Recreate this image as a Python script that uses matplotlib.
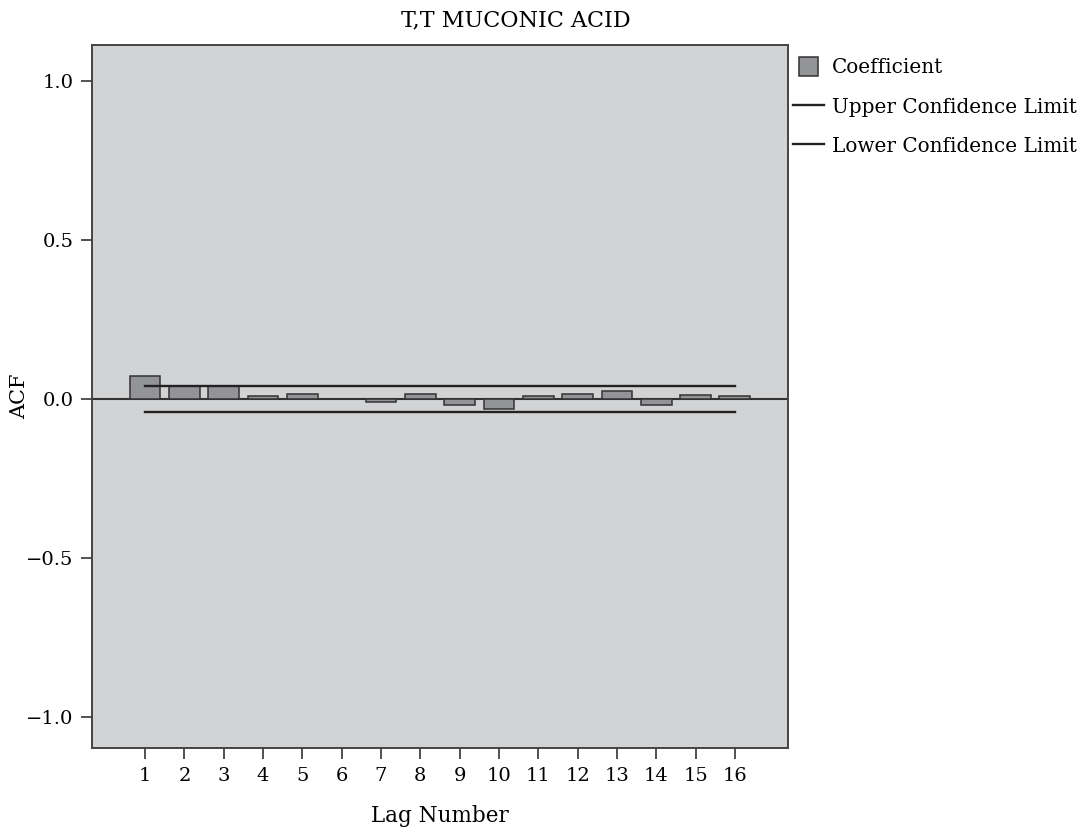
import numpy as np
import matplotlib
matplotlib.use("Agg")
import matplotlib.pyplot as plt
from matplotlib.patches import Patch, Rectangle
from matplotlib.lines import Line2D
from matplotlib.legend_handler import HandlerPatch

plt.rcParams["font.family"] = ["DejaVu Serif"]
plt.rcParams["axes.unicode_minus"] = True

TITLE = "T,T MUCONIC ACID"
LAGS = list(range(1, 17))
ACF = [0.071, 0.040, 0.040, 0.008, 0.014, 0.0, -0.010, 0.016,
       -0.019, -0.031, 0.008, 0.016, 0.024, -0.019, 0.012, 0.008]
UPPER = [0.042] * 16
LOWER = [-0.042] * 16

BG = "#d2d3d5"
BAR = "#939497"
EDGE = "#333333"


def square_patch(legend, orig_handle, xdescent, ydescent, width, height, fontsize):
    # square swatch centred in the handle box
    return Rectangle((-xdescent + (width - height) / 2, -ydescent), height, height)


fig = plt.figure(figsize=(10.89, 8.31), dpi=100)
ax = fig.add_axes([0.0845, 0.1, 0.639, 0.846])
ax.set_facecolor(BG)

ax.bar(LAGS, ACF, width=0.78, color=BAR, edgecolor=EDGE, linewidth=1.1, zorder=2)
ax.plot(LAGS, UPPER, color="#222222", linewidth=1.7, zorder=3)
ax.plot(LAGS, LOWER, color="#222222", linewidth=1.7, zorder=3)
ax.axhline(0, color="#333333", linewidth=1.5, zorder=1)

ax.set_xlim(-0.35, 17.35)
ax.set_ylim(-1.097, 1.113)
ax.set_xticks(LAGS)
ax.set_yticks([-1.0, -0.5, 0.0, 0.5, 1.0])
ax.set_yticklabels(["\u22121.0", "\u22120.5", "0.0", "0.5", "1.0"])
ax.tick_params(axis="both", labelsize=14, length=8, width=1.2, color="#333333", pad=5.5)

for s in ax.spines.values():
    s.set_color("#444444")
    s.set_linewidth(1.4)

fig.text(516 / 1089, 1 - 20 / 831, TITLE, fontsize=16, ha="center", va="center")
ax.set_xlabel("Lag Number", fontsize=15.5, labelpad=15)
ax.set_ylabel("ACF", fontsize=15, labelpad=-2)

handles = [
    Patch(facecolor=BAR, edgecolor=EDGE, linewidth=1.1, label="Coefficient"),
    Line2D([0], [0], color="#222222", linewidth=1.7, label="Upper Confidence Limit"),
    Line2D([0], [0], color="#222222", linewidth=1.7, label="Lower Confidence Limit"),
]
fig.legend(handles=handles, loc="upper left", bbox_to_anchor=(0.7282, 0.931),
           frameon=False, fontsize=14.4, handlelength=1.55, handleheight=1.05,
           handletextpad=0.4, labelspacing=0.97, borderaxespad=0, borderpad=0,
           handler_map={Patch: HandlerPatch(patch_func=square_patch)})

fig.savefig("out.png", dpi=100)
